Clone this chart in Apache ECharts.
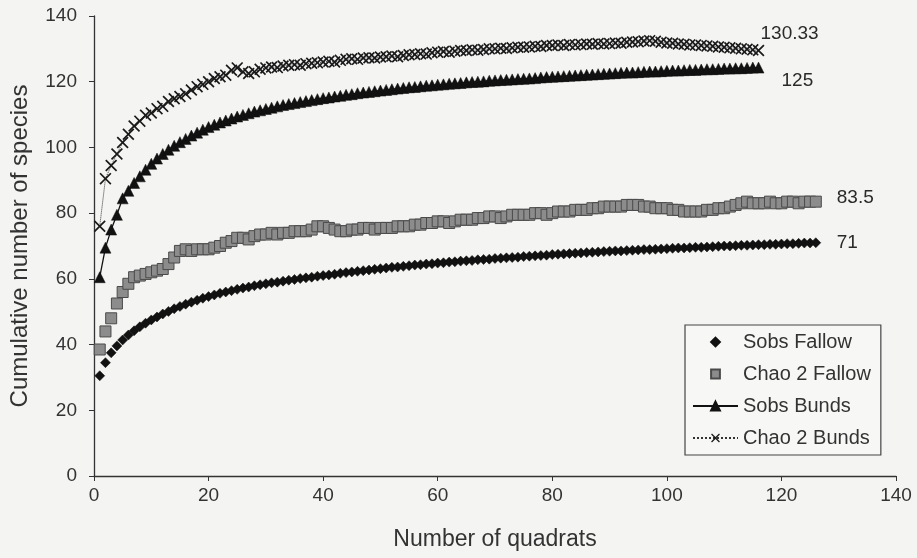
<!DOCTYPE html>
<html>
<head>
<meta charset="utf-8">
<script src="https://cdn.jsdelivr.net/npm/echarts@6/dist/echarts.min.js"></script>
<style>
  html, body { margin: 0; padding: 0; background: #f4f4f2; }
  #chart { width: 917px; height: 558px; }
</style>
</head>
<body>
<div id="chart"></div>
<script>
// series names, in legend order
const seriesNames = ['Sobs Fallow', 'Chao 2 Fallow', 'Sobs Bunds', 'Chao 2 Bunds']
// value printed at the end of each curve
const endValues = ['71', '83.5', '125', '130.33']

// cumulative species, one value per quadrat (quadrat 1, 2, 3 ...)
const sobsFallow = [
  30.5, 34.5, 37.5, 39.6, 41.4, 42.9, 44.2, 45.4, 46.5, 47.5,
  48.4, 49.3, 50.1, 50.9, 51.6, 52.3, 52.9, 53.5, 54.1, 54.6,
  55.1, 55.6, 56.0, 56.4, 56.8, 57.2, 57.5, 57.9, 58.2, 58.5,
  58.8, 59.0, 59.3, 59.6, 59.8, 60.1, 60.3, 60.5, 60.8, 61.0,
  61.2, 61.4, 61.7, 61.9, 62.1, 62.3, 62.5, 62.7, 62.9, 63.1,
  63.3, 63.5, 63.6, 63.8, 64.0, 64.2, 64.3, 64.5, 64.6, 64.8,
  64.9, 65.1, 65.2, 65.4, 65.5, 65.6, 65.8, 65.9, 66.0, 66.2,
  66.3, 66.4, 66.5, 66.6, 66.8, 66.9, 67.0, 67.1, 67.2, 67.4,
  67.5, 67.6, 67.7, 67.8, 67.9, 68.0, 68.1, 68.2, 68.3, 68.4,
  68.5, 68.5, 68.6, 68.7, 68.8, 68.9, 68.9, 69.0, 69.1, 69.2,
  69.3, 69.4, 69.4, 69.5, 69.6, 69.6, 69.7, 69.8, 69.9, 70.0,
  70.0, 70.1, 70.2, 70.2, 70.3, 70.4, 70.4, 70.5, 70.5, 70.6,
  70.7, 70.7, 70.8, 70.9, 70.9, 71.0
]
const chaoFallow = [
  38.5, 44, 48, 52.5, 56, 58.5, 60.5, 61, 61.5, 62,
  62.5, 63, 64.5, 66.5, 68.5, 69, 68.5, 69, 69, 69,
  69.5, 70, 71, 71.5, 72.5, 72.5, 72, 73, 73.5, 73.5,
  74, 73.5, 74, 74, 74.5, 74.5, 74.5, 75, 76, 76,
  75.5, 75, 74.5, 74.5, 75, 75, 75.5, 75.5, 75, 75.5,
  75.5, 75.5, 76, 76, 76, 76.5, 76.5, 77, 77, 77.5,
  77.5, 77, 77.5, 78, 78, 78, 78.5, 78.5, 79, 79,
  78.5, 79, 79.5, 79.5, 79.5, 79.5, 80, 80, 79.5, 80,
  80.5, 80.5, 80.5, 81, 81, 81, 81.5, 81.5, 82, 82,
  82, 82, 82.5, 82.5, 82.5, 82, 82, 81.5, 81.5, 81.5,
  81, 81, 80.5, 80.5, 80.5, 80.5, 81, 81, 81.5, 81.5,
  82, 82.5, 83, 83.5, 83, 83, 83, 83.5, 83, 83,
  83.5, 83.5, 83, 83.5, 83.5, 83.5
]
const sobsBunds = [
  60.5, 69.5, 75, 79.5, 84.5, 86.8, 89.2, 91.2, 93.2, 95,
  96.6, 98, 99.3, 100.5, 101.6, 102.6, 103.6, 104.5, 105.4, 106.2,
  106.9, 107.6, 108.2, 108.8, 109.4, 109.9, 110.4, 110.9, 111.3, 111.7,
  112.1, 112.5, 112.9, 113.2, 113.5, 113.8, 114.1, 114.4, 114.7, 115.0,
  115.2, 115.5, 115.7, 116.0, 116.2, 116.5, 116.7, 116.9, 117.1, 117.3,
  117.5, 117.7, 117.9, 118.1, 118.3, 118.4, 118.6, 118.8, 118.9, 119.1,
  119.2, 119.4, 119.5, 119.6, 119.8, 119.9, 120.0, 120.1, 120.3, 120.4,
  120.5, 120.6, 120.7, 120.8, 120.9, 121.0, 121.1, 121.3, 121.4, 121.5,
  121.6, 121.7, 121.8, 121.9, 122.0, 122.1, 122.2, 122.3, 122.4, 122.5,
  122.6, 122.7, 122.8, 122.8, 122.9, 123.0, 123.1, 123.1, 123.2, 123.3,
  123.4, 123.4, 123.5, 123.6, 123.6, 123.7, 123.8, 123.8, 123.9, 124.0,
  124.0, 124.1, 124.1, 124.2, 124.3, 124.3
]
const chaoBunds = [
  76, 90.5, 94.5, 98, 101.5, 104, 106.5, 108, 109.8, 110.5,
  111.8, 112.5, 114, 114.8, 115.5, 116.3, 117.5, 118.5, 119.2, 120,
  121, 121.5, 122, 123.5, 124.2, 123, 122.5, 123, 123.8, 124.2,
  124.5, 124.3, 124.8, 125, 125.2, 125, 125.5, 125.6, 125.8, 126,
  126.2, 126, 126.5, 126.8, 127, 126.8, 127.2, 127.3, 127.2, 127.5,
  127.6, 127.8, 127.6, 128, 128.2, 128.3, 128.5, 128.4, 128.8, 129,
  129.2, 129, 129.3, 129.5, 129.5, 129.7, 129.6, 129.8, 130, 130,
  130.2, 130.1, 130.3, 130.5, 130.5, 130.6, 130.8, 130.7, 131, 131,
  131.2, 131, 131.3, 131.2, 131.3, 131.5, 131.4, 131.6, 131.5, 131.6,
  131.8, 131.7, 132, 132.1, 132.2, 132.4, 132.5, 132.3, 132, 131.8,
  131.7, 131.5, 131.4, 131.2, 131.2, 131, 130.9, 130.8, 130.6, 130.5,
  130.3, 130.2, 130, 129.9, 129.7, 129.5
]

const font = "'Liberation Sans', Arial, sans-serif"
const toPairs = arr => arr.map((v, i) => [i + 1, v])

const chart = echarts.init(document.getElementById('chart'))

// X 形标记
const crossPath = 'path://M0,1L1,0L5,4L9,0L10,1L6,5L10,9L9,10L5,6L1,10L0,9L4,5Z'

const endLabel = (text, dx, dy) => ({
  show: true,
  formatter: text,
  distance: 0,
  offset: [dx, dy],
  color: '#2a2a2a',
  fontFamily: font,
  fontSize: 19
})

const option = {
  backgroundColor: '#f4f4f2',
  animation: false,
  grid: { left: 93, right: 21, top: 16, bottom: 82 },
  legend: {
    orient: 'vertical',
    left: 685,
    top: 325,
    padding: [7, 10, 7, 7],
    itemWidth: 45,
    itemHeight: 11,
    itemGap: 12,
    backgroundColor: '#f7f7f5',
    borderColor: '#444',
    borderWidth: 1.2,
    borderRadius: 0,
    textStyle: { color: '#333', fontFamily: font, fontSize: 20 },
    data: seriesNames
  },
  xAxis: {
    type: 'value',
    min: 0, max: 140, interval: 20,
    name: 'Number of quadrats',
    nameLocation: 'middle',
    nameGap: 52,
    nameTextStyle: { color: '#333', fontFamily: font, fontSize: 23 },
    axisLine: { lineStyle: { color: '#333', width: 1.3 } },
    axisTick: { length: 5, lineStyle: { color: '#333' } },
    axisLabel: { color: '#333', fontFamily: font, fontSize: 19, margin: 10 },
    splitLine: { show: false }
  },
  yAxis: {
    type: 'value',
    min: 0, max: 140, interval: 20,
    name: 'Cumulative number of species',
    nameLocation: 'middle',
    nameGap: 62,
    nameTextStyle: { color: '#333', fontFamily: font, fontSize: 24 },
    axisLine: { show: true, lineStyle: { color: '#333', width: 1.3 } },
    axisTick: { show: true, length: 5, lineStyle: { color: '#333' } },
    axisLabel: { color: '#333', fontFamily: font, fontSize: 19, margin: 17 },
    splitLine: { show: false }
  },
  series: [
    {
      name: seriesNames[0],
      type: 'line',
      data: toPairs(sobsFallow),
      symbol: 'diamond',
      symbolSize: 10,
      showAllSymbol: true,
      lineStyle: { width: 0 },
      itemStyle: { color: '#111', borderColor: '#111', borderWidth: 0.5 },
      endLabel: endLabel(endValues[0], 21, 0)
    },
    {
      name: seriesNames[1],
      type: 'line',
      data: toPairs(chaoFallow),
      symbol: 'rect',
      symbolSize: 11,
      showAllSymbol: true,
      lineStyle: { width: 0 },
      itemStyle: { color: '#8c8c8c', borderColor: '#4a4a4a', borderWidth: 1 },
      endLabel: endLabel(endValues[1], 21, -4)
    },
    {
      name: seriesNames[2],
      type: 'line',
      data: toPairs(sobsBunds),
      symbol: 'triangle',
      symbolSize: 11,
      showAllSymbol: true,
      lineStyle: { color: '#111', width: 1.3 },
      itemStyle: { color: '#111', borderColor: '#111', borderWidth: 0.5 },
      endLabel: endLabel(endValues[2], 23, 13)
    },
    {
      name: seriesNames[3],
      type: 'line',
      data: toPairs(chaoBunds),
      symbol: crossPath,
      symbolSize: 12,
      showAllSymbol: true,
      lineStyle: { color: '#333', width: 1, type: 'dotted' },
      itemStyle: { color: '#1a1a1a' },
      endLabel: endLabel(endValues[3], 2, -17)
    }
  ]
}

chart.setOption(option)
</script>
</body>
</html>
